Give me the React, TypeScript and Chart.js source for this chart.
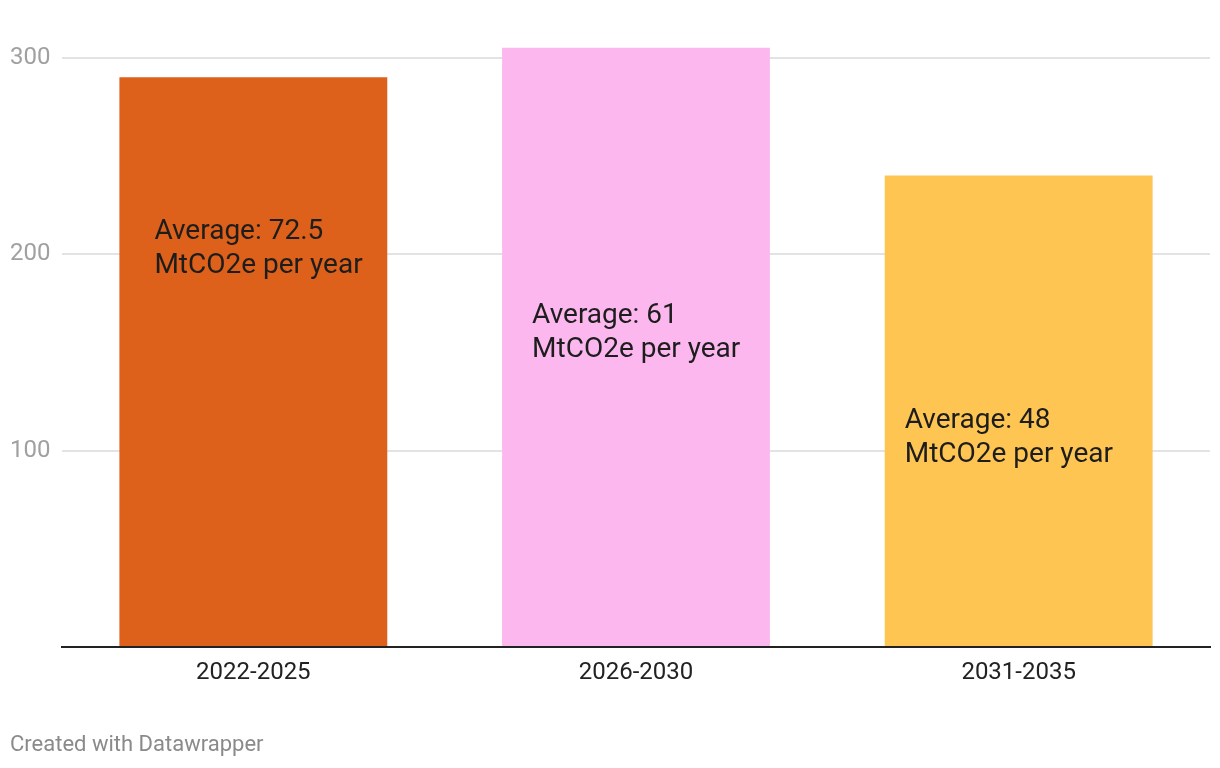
import React, { useEffect, useRef } from "react";
import { Chart, registerables } from "chart.js";

Chart.register(...registerables);

const categories = ["2022-2025", "2026-2030", "2031-2035"];
const totals = [290, 305, 240];
const barColors = ["#dd601b", "#fcb8ee", "#fec553"];
const yTicks = [0, 100, 200, 300];
const labelLines = [
  ["Average: 72.5", "MtCO2e per year"],
  ["Average: 61", "MtCO2e per year"],
  ["Average: 48", "MtCO2e per year"],
];
const labelAnchorValues = [211.0, 168.3, 114.9];
const labelOffsetsPx = [35, 30, 20];
const footer = "Created with Datawrapper";

const FONT = "Roboto, 'Noto Sans', sans-serif";

const annotatePlugin = {
  id: "annotate",
  afterDatasetsDraw(chart: any) {
    const ctx = chart.ctx;
    const meta = chart.getDatasetMeta(0);
    const y = chart.scales.y;
    ctx.save();
    ctx.font = `28px ${FONT}`;
    ctx.fillStyle = "#1d1d1d";
    ctx.textAlign = "left";
    ctx.textBaseline = "middle";
    meta.data.forEach((bar: any, i: number) => {
      const left = bar.x - bar.width / 2;
      const cy = y.getPixelForValue(labelAnchorValues[i]);
      labelLines[i].forEach((line, j) => {
        ctx.fillText(line, left + labelOffsetsPx[i], cy + j * 34);
      });
    });
    ctx.restore();
  },
  afterDraw(chart: any) {
    const ctx = chart.ctx;
    ctx.save();
    ctx.font = `22px ${FONT}`;
    ctx.fillStyle = "#8a8a8a";
    ctx.textAlign = "left";
    ctx.textBaseline = "middle";
    ctx.fillText(footer, 10, 745);
    ctx.restore();
  },
};

export default function App() {
  const ref = useRef<HTMLCanvasElement>(null);
  useEffect(() => {
    document.body.style.margin = "0";
    const chart = new Chart(ref.current!, {
      type: "bar",
      data: {
        labels: categories,
        datasets: [
          {
            data: totals,
            backgroundColor: barColors,
            categoryPercentage: 1,
            barPercentage: 0.7,
          },
        ],
      },
      plugins: [annotatePlugin],
      options: {
        animation: false,
        responsive: false,
        maintainAspectRatio: false,
        layout: { padding: { left: 10, right: 10, top: 30, bottom: 0 } },
        plugins: { legend: { display: false }, tooltip: { enabled: false } },
        scales: {
          x: {
            grid: { display: false },
            border: { display: true, color: "#222222", width: 2 },
            ticks: {
              color: "#222222",
              font: { family: FONT, size: 24 },
              padding: 4,
            },
            afterFit(scale: any) {
              scale.height = 121;
            },
          },
          y: {
            min: 0,
            max: 314,
            afterBuildTicks(scale: any) {
              scale.ticks = yTicks.map((v) => ({ value: v }));
            },
            afterFit(scale: any) {
              scale.width = 52;
            },
            border: { display: false },
            grid: {
              drawTicks: false,
              color: (c: any) => (c.tick && c.tick.value === 0 ? "rgba(0,0,0,0)" : "#e3e3e3"),
              lineWidth: 2,
            },
            ticks: {
              crossAlign: "far",
              padding: 0,
              color: "#a0a0a0",
              font: { family: FONT, size: 24 },
              callback: (v: any) => (v === 0 ? "" : String(v)),
            },
          },
        },
      },
    });
    return () => chart.destroy();
  }, []);
  return (
    <div style={{ width: 1220, height: 768 }}>
      <canvas ref={ref} width={1220} height={768} style={{ display: "block" }} />
    </div>
  );
}
